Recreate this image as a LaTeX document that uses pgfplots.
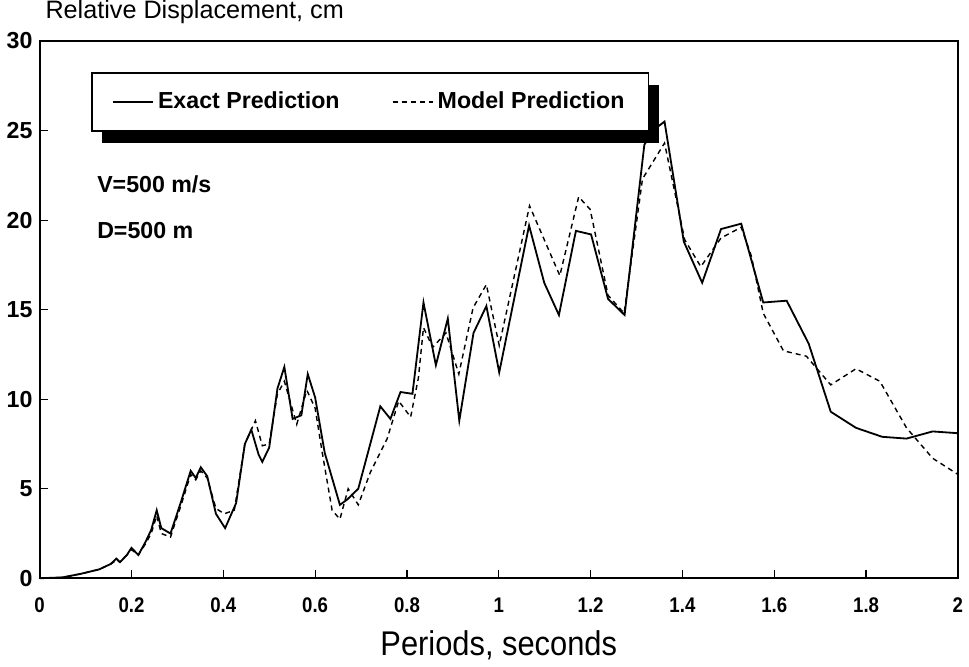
\documentclass[border=0pt]{standalone}
\usepackage{fontspec}
\setmainfont{Liberation Sans}
\usepackage{pgfplots}
\pgfplotsset{compat=1.18}
\usetikzlibrary{shadows}
\makeatletter
\tikzset{no preactions/.code={\let\tikz@preactions=\pgfutil@empty}}
\makeatother

\pgfplotstableread{
x y
0 0
0.05 0.05
0.09 0.25
0.13 0.5
0.155 0.8
0.167 1.1
0.175 0.9
0.19 1.3
0.2 1.7
0.215 1.3
0.23 2.0
0.243 2.7
0.255 3.8
0.265 2.8
0.285 2.5
0.307 4.2
0.329 6.0
0.34 5.6
0.351 6.2
0.365 5.7
0.384 3.6
0.404 2.8
0.428 4.2
0.447 7.5
0.461 8.3
0.477 6.9
0.485 6.5
0.5 7.3
0.518 10.6
0.533 11.8
0.551 8.9
0.57 9.1
0.584 11.4
0.6 10.1
0.621 7.0
0.654 4.1
0.67 4.4
0.694 5.0
0.742 9.6
0.764 8.9
0.786 10.4
0.812 10.3
0.836 15.4
0.863 11.9
0.889 14.5
0.914 8.8
0.945 13.7
0.973 15.2
1.001 11.5
1.066 19.7
1.099 16.5
1.131 14.7
1.168 19.4
1.201 19.2
1.238 15.6
1.274 14.7
1.317 24.2
1.335 25.0
1.361 25.5
1.403 18.8
1.443 16.5
1.484 19.5
1.528 19.8
1.576 15.4
1.627 15.5
1.675 13.1
1.723 9.3
1.778 8.4
1.835 7.9
1.888 7.8
1.945 8.2
2.0 8.1
}\exact

\pgfplotstableread{
x y
0 0
0.05 0.05
0.09 0.25
0.13 0.5
0.155 0.8
0.167 1.0
0.175 0.9
0.19 1.3
0.2 1.6
0.215 1.3
0.23 1.9
0.243 2.5
0.255 3.5
0.265 2.5
0.285 2.3
0.307 4.0
0.329 5.8
0.34 5.5
0.351 6.0
0.365 5.6
0.384 3.9
0.402 3.6
0.424 3.8
0.447 7.5
0.47 8.8
0.485 7.4
0.5 7.5
0.518 10.3
0.533 11.0
0.56 8.6
0.582 10.5
0.6 9.5
0.615 7.1
0.637 3.8
0.654 3.3
0.672 5.0
0.694 4.1
0.72 5.9
0.757 7.8
0.782 9.9
0.808 9.0
0.825 11.2
0.836 14.0
0.856 12.9
0.885 13.7
0.913 11.4
0.944 15.1
0.973 16.4
1.001 13.0
1.067 20.8
1.133 16.9
1.174 21.3
1.199 20.6
1.238 15.8
1.273 14.8
1.313 22.3
1.361 24.3
1.405 18.9
1.44 17.4
1.484 19.0
1.528 19.6
1.55 18.0
1.576 14.8
1.62 12.7
1.67 12.4
1.723 10.8
1.778 11.7
1.83 11.0
1.888 8.4
1.945 6.7
2.0 5.8
}\model

\begin{document}
\begin{tikzpicture}
\begin{axis}[
    scale only axis,
    width=455.5pt, height=266.5pt,
    clip=false,
    xmin=0, xmax=2, ymin=0, ymax=30,
    xtick={0,0.2,...,2.01},
    ytick={0,5,...,30},
    tick pos=left,
    tick align=inside,
    major tick length=4pt,
    axis line style={line width=0.9pt},
    every tick/.style={line width=0.6pt, black},
    /pgf/number format/assume math mode=true,
    yticklabel style={font=\bfseries\fontsize{11.5}{13}\selectfont},
    xticklabel style={font=\bfseries\fontsize{10.5}{12}\selectfont, xscale=0.88, yshift=-6pt},
    xlabel={Periods, seconds},
    xlabel style={font=\fontsize{17}{19}\selectfont, xscale=0.9, yshift=-2pt},
    legend columns=2,
    legend style={
        at={(axis description cs:0.056,0.942)}, anchor=north west,
        draw=black, line width=0.8pt, fill=white,
        drop shadow={fill=black, opacity=1, shadow xshift=5pt, shadow yshift=-6pt},
        font=\bfseries\fontsize{11.5}{13}\selectfont,
        inner xsep=10pt, inner ysep=7.5pt,
        /tikz/every even column/.append style={column sep=24pt},
        cells={anchor=west},
    },
    legend image code/.code={\draw[no preactions,#1] (0cm,0cm) -- (0.7cm,0cm);},
]
\addplot[black, line width=0.9pt] table[x=x, y=y] {\exact};
\addlegendentry{Exact Prediction}
\addplot[black, line width=0.7pt, dash pattern=on 2.5pt off 2pt] table[x=x, y=y] {\model};
\addlegendentry{Model Prediction}

\node[anchor=west, font=\bfseries\fontsize{11.5}{13}\selectfont] at (axis cs:0.11,22.0) {V=500 m/s};
\node[anchor=west, font=\bfseries\fontsize{11.5}{13}\selectfont] at (axis cs:0.11,19.4) {D=500 m};
\node[anchor=south west, inner sep=0pt, font=\fontsize{12.5}{14}\selectfont] at ([yshift=8.5pt]axis description cs:0.006,1) {Relative Displacement, cm};
\end{axis}
\end{tikzpicture}
\end{document}
